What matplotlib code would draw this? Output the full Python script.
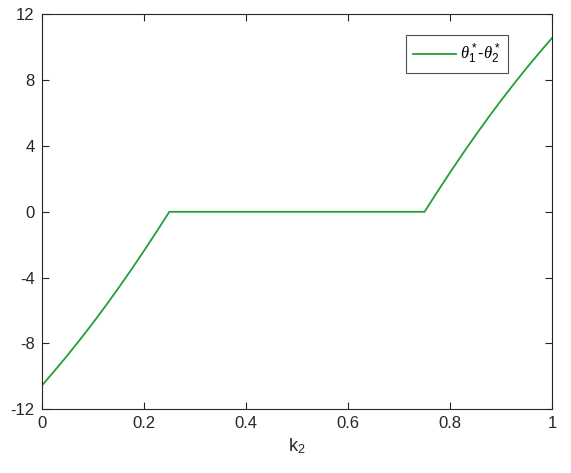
import numpy as np
import matplotlib
matplotlib.use('Agg')
import matplotlib.pyplot as plt

# values
k2 = [0.0, 0.025, 0.05, 0.075, 0.1, 0.125, 0.15, 0.175, 0.2, 0.225, 0.25,
      0.3, 0.4, 0.5, 0.6, 0.7, 0.75,
      0.775, 0.8, 0.825, 0.85, 0.875, 0.9, 0.925, 0.95, 0.975, 1.0]
theta_diff = [-10.57, -9.67, -8.74, -7.77, -6.77, -5.73, -4.65, -3.54, -2.39, -1.21, 0.0,
              0.0, 0.0, 0.0, 0.0, 0.0, 0.0,
              1.21, 2.39, 3.54, 4.65, 5.73, 6.77, 7.77, 8.74, 9.67, 10.57]

x_ticks = [0, 0.2, 0.4, 0.6, 0.8, 1]
y_ticks = [-12, -8, -4, 0, 4, 8, 12]

plt.rcParams['font.family'] = ['Liberation Sans', 'DejaVu Sans']
plt.rcParams['axes.unicode_minus'] = False
plt.rcParams['mathtext.fontset'] = 'custom'
plt.rcParams['mathtext.it'] = 'Liberation Serif:italic'
plt.rcParams['mathtext.rm'] = 'Liberation Sans'

axis_col = '#262626'

fig = plt.figure(figsize=(5.71, 4.73), dpi=100)
ax = fig.add_axes([0.073, 0.1347, 0.894, 0.835])

ax.plot(k2, theta_diff, color='#23a033', linewidth=1.3,
        label=r'$\theta^*_1$-$\theta^*_2$')

ax.set_xlim(0, 1)
ax.set_ylim(-12, 12)
ax.set_xticks(x_ticks)
ax.set_xticklabels([f'{t:g}' for t in x_ticks])
ax.set_yticks(y_ticks)
ax.tick_params(direction='in', top=True, right=True, length=5, width=0.8,
               labelsize=12, colors=axis_col, labelcolor=axis_col, pad=5)
for s in ax.spines.values():
    s.set_color(axis_col)
    s.set_linewidth(0.8)

ax.set_xlabel(r'k$_{\mathregular{2}}$', fontsize=13, color=axis_col, labelpad=4)

leg = ax.legend(loc='upper right', bbox_to_anchor=(0.913, 0.947), fontsize=12,
                frameon=True, fancybox=False, handlelength=2.6,
                borderpad=0.4, handletextpad=0.25, borderaxespad=0)
leg.get_frame().set_edgecolor(axis_col)
leg.get_frame().set_linewidth(0.8)

plt.savefig('out.png', dpi=100)
